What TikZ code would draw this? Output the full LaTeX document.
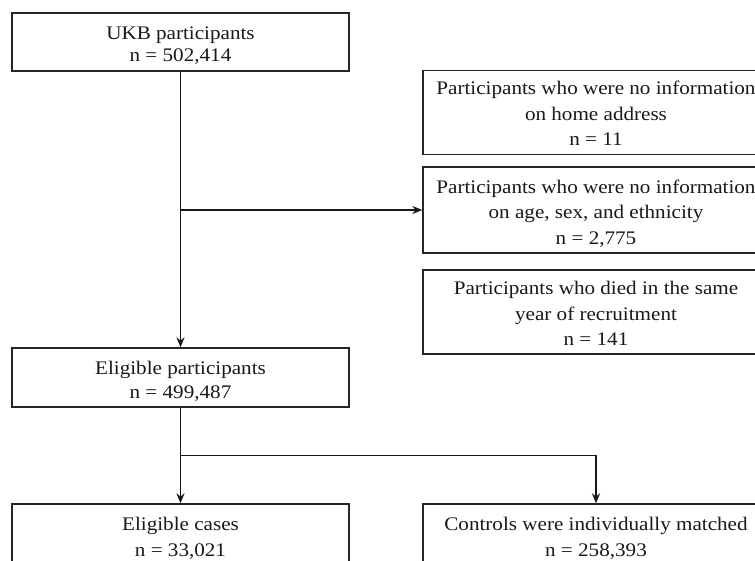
\documentclass[tikz,border=0pt]{standalone}
\usepackage{fontspec}
\setmainfont{Liberation Serif}[FakeStretch=1.1]
\usetikzlibrary{arrows.meta}
\newcommand{\ts}[1]{\rule{0pt}{#1pt}}
\newcommand{\bs}{\rule[-5pt]{0pt}{5pt}}
\begin{document}
\begin{tikzpicture}[x=1pt,y=-1pt,
  box/.style={draw=black!85, line width=1.3pt, rectangle, inner sep=0pt, align=center,
    font=\fontsize{19.2}{22}\selectfont, text=black!90},
  rbox/.style={box, font=\fontsize{19.2}{25.5}\selectfont},
  conn/.style={line width=1.5pt, draw=black!90, -{Stealth[length=10pt,width=8pt]}}]
\useasboundingbox (0,0) rectangle (755,561);
\clip (0,0) rectangle (755,561);
\fill[white] (0,0) rectangle (755,561);
\node[box, minimum width=337pt, minimum height=58pt] (ukb) at (180.5,42) {\ts{23}UKB participants\\n = 502,414\bs};
\node[rbox, minimum width=346pt, minimum height=84pt] (r1) at (596,112.5) {\ts{21}Participants who were no information\\on home address\\n = 11\bs};
\node[rbox, minimum width=346pt, minimum height=86pt] (r2) at (596,210) {\ts{22.4}Participants who were no information\\on age, sex, and ethnicity\\n = 2,775\bs};
\node[rbox, minimum width=346pt, minimum height=84pt] (r3) at (596,312) {\ts{21}Participants who died in the same\\year of recruitment\\n = 141\bs};
\node[box, minimum width=337pt, minimum height=59pt, font=\fontsize{19.2}{24}\selectfont] (elig) at (180.5,377.5) {\ts{22}Eligible participants\\n = 499,487\bs};
\node[box, minimum width=337pt, minimum height=62pt, font=\fontsize{19.2}{26}\selectfont] (cases) at (180.5,535) {\ts{21}Eligible cases\\n = 33,021\bs};
\node[box, minimum width=346pt, minimum height=62pt, font=\fontsize{19.2}{26}\selectfont] (ctrl) at (596,535) {\ts{21}Controls were individually matched\\n = 258,393\bs};
\draw[conn] (ukb.south) -- (elig.north);
\draw[conn] (ukb.south |- r2.west) -- (r2.west);
\coordinate (sp) at ([shift={(0,48)}]elig.south);
\draw[conn] (elig.south) -- (cases.north);
\draw[conn] (sp) -| (ctrl.north);
\end{tikzpicture}
\end{document}
